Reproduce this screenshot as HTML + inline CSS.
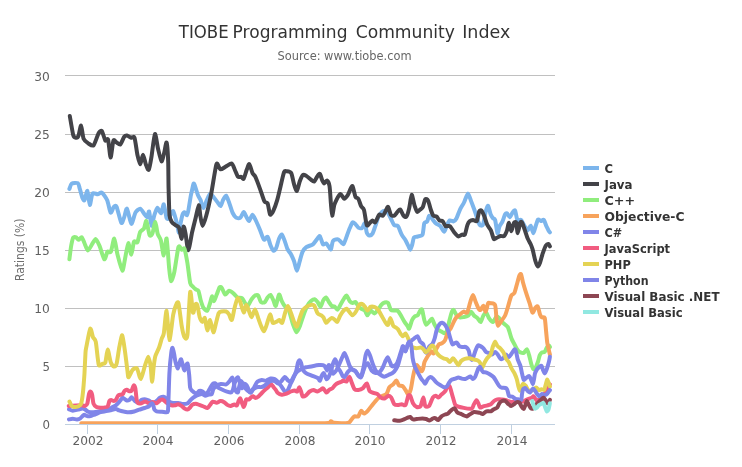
<!DOCTYPE html><html><head><meta charset="utf-8"><title>TIOBE Programming Community Index</title>
<style>html,body{margin:0;padding:0;background:#fff}svg{display:block}text{font-family:"DejaVu Sans","Liberation Sans",sans-serif}</style></head><body>
<svg width="742" height="467" viewBox="0 0 742 467">
<rect width="742" height="467" fill="#fff"/>
<path d="M65 366.5H555" stroke="#c0c0c0" stroke-width="1" fill="none"/>
<path d="M65 308.5H555" stroke="#c0c0c0" stroke-width="1" fill="none"/>
<path d="M65 250.5H555" stroke="#c0c0c0" stroke-width="1" fill="none"/>
<path d="M65 192.5H555" stroke="#c0c0c0" stroke-width="1" fill="none"/>
<path d="M65 134.5H555" stroke="#c0c0c0" stroke-width="1" fill="none"/>
<path d="M65 75.5H555" stroke="#c0c0c0" stroke-width="1" fill="none"/>
<path d="M65 424.5H555" stroke="#c0d0e0" stroke-width="1" fill="none"/>
<path d="M87.5 424.5V434" stroke="#c0d0e0" stroke-width="1" fill="none"/>
<text x="87.9" y="444.8" text-anchor="middle" font-size="12" fill="#606060" textLength="31" lengthAdjust="spacingAndGlyphs">2002</text>
<path d="M157.5 424.5V434" stroke="#c0d0e0" stroke-width="1" fill="none"/>
<text x="157.9" y="444.8" text-anchor="middle" font-size="12" fill="#606060" textLength="31" lengthAdjust="spacingAndGlyphs">2004</text>
<path d="M228.5 424.5V434" stroke="#c0d0e0" stroke-width="1" fill="none"/>
<text x="228.9" y="444.8" text-anchor="middle" font-size="12" fill="#606060" textLength="31" lengthAdjust="spacingAndGlyphs">2006</text>
<path d="M299.5 424.5V434" stroke="#c0d0e0" stroke-width="1" fill="none"/>
<text x="299.9" y="444.8" text-anchor="middle" font-size="12" fill="#606060" textLength="31" lengthAdjust="spacingAndGlyphs">2008</text>
<path d="M369.5 424.5V434" stroke="#c0d0e0" stroke-width="1" fill="none"/>
<text x="369.9" y="444.8" text-anchor="middle" font-size="12" fill="#606060" textLength="31" lengthAdjust="spacingAndGlyphs">2010</text>
<path d="M440.5 424.5V434" stroke="#c0d0e0" stroke-width="1" fill="none"/>
<text x="440.9" y="444.8" text-anchor="middle" font-size="12" fill="#606060" textLength="31" lengthAdjust="spacingAndGlyphs">2012</text>
<path d="M511.5 424.5V434" stroke="#c0d0e0" stroke-width="1" fill="none"/>
<text x="511.9" y="444.8" text-anchor="middle" font-size="12" fill="#606060" textLength="31" lengthAdjust="spacingAndGlyphs">2014</text>
<text x="49.9" y="429.1" text-anchor="end" font-size="12" fill="#606060" textLength="7.5" lengthAdjust="spacingAndGlyphs">0</text>
<text x="49.9" y="371.1" text-anchor="end" font-size="12" fill="#606060" textLength="7.5" lengthAdjust="spacingAndGlyphs">5</text>
<text x="49.9" y="313.1" text-anchor="end" font-size="12" fill="#606060" textLength="15.6" lengthAdjust="spacingAndGlyphs">10</text>
<text x="49.9" y="255.1" text-anchor="end" font-size="12" fill="#606060" textLength="15.6" lengthAdjust="spacingAndGlyphs">15</text>
<text x="49.9" y="197.1" text-anchor="end" font-size="12" fill="#606060" textLength="15.6" lengthAdjust="spacingAndGlyphs">20</text>
<text x="49.9" y="139.1" text-anchor="end" font-size="12" fill="#606060" textLength="15.6" lengthAdjust="spacingAndGlyphs">25</text>
<text x="49.9" y="81.1" text-anchor="end" font-size="12" fill="#606060" textLength="15.6" lengthAdjust="spacingAndGlyphs">30</text>
<text y="38" font-size="18" fill="#333333" xml:space="preserve"><tspan x="178.8" textLength="49.8" lengthAdjust="spacingAndGlyphs">TIOBE</tspan> <tspan x="232.6" textLength="114.9" lengthAdjust="spacingAndGlyphs">Programming</tspan> <tspan x="355.7" textLength="99.2" lengthAdjust="spacingAndGlyphs">Community</tspan> <tspan x="462.2" textLength="48.1" lengthAdjust="spacingAndGlyphs">Index</tspan></text>
<text x="344.5" y="60" text-anchor="middle" font-size="12" fill="#666666" textLength="134" lengthAdjust="spacingAndGlyphs">Source: www.tiobe.com</text>
<text transform="translate(23.5 249.8) rotate(-90)" text-anchor="middle" font-size="12" fill="#707070" textLength="62.5" lengthAdjust="spacingAndGlyphs">Ratings (%)</text>
<clipPath id="pc"><rect x="65" y="70" width="490" height="354"/></clipPath>
<g fill="none" stroke-width="4" stroke-linejoin="round" stroke-linecap="round" clip-path="url(#pc)">
<path d="M69.4 188.9C69.7 188.3 70.7 184.3 71.7 183.6C72.7 182.9 76.9 182.6 77.9 183.2C78.9 183.8 79.2 187.1 79.8 188.9C80.4 190.7 82.0 196.9 82.6 198.3C83.2 199.7 83.9 201.1 84.5 200.2C85.1 199.3 86.8 190.2 87.4 190.8C88.0 191.4 89.2 204.6 89.8 204.9C90.4 205.2 91.6 194.9 92.5 193.6C93.4 192.3 96.6 194.3 97.7 194.2C98.8 194.1 100.8 192.0 101.9 192.7C103.0 193.4 106.2 197.8 107.2 200.2C108.2 202.6 109.8 211.7 110.6 212.5C111.4 213.3 113.1 207.5 113.8 206.8C114.5 206.1 115.7 204.9 116.6 206.8C117.5 208.7 120.4 221.7 121.3 222.9C122.2 224.1 123.5 218.9 124.2 217.2C124.9 215.5 126.1 207.9 127.0 208.7C127.9 209.5 130.3 223.3 131.3 223.8C132.3 224.3 134.4 214.3 135.5 212.5C136.6 210.7 139.2 208.6 140.2 208.7C141.2 208.8 143.2 212.4 144.0 213.4C144.8 214.4 146.6 217.4 147.2 217.2C147.8 217.0 148.6 210.5 149.1 211.5C149.6 212.5 150.9 225.2 151.5 225.7C152.1 226.2 153.6 217.4 154.3 215.3C155.0 213.2 156.6 208.0 157.4 207.8C158.2 207.6 160.3 213.7 161.1 213.3C161.9 212.9 163.2 203.8 163.8 204.3C164.4 204.8 165.9 216.1 166.5 217.8C167.1 219.5 168.0 219.0 168.5 218.5C169.0 218.0 170.4 214.9 171.0 214.0C171.6 213.1 172.7 210.6 173.2 211.0C173.7 211.4 174.7 215.6 175.2 217.2C175.7 218.8 176.8 222.8 177.2 224.6C177.6 226.4 178.5 232.6 178.9 232.5C179.3 232.4 180.1 226.2 180.5 224.0C180.9 221.8 182.1 215.9 182.6 214.5C183.1 213.1 184.1 212.1 184.6 212.2C185.1 212.3 186.5 215.6 187.0 215.2C187.5 214.8 188.3 210.8 188.7 208.5C189.1 206.2 190.3 198.6 190.7 196.3C191.1 194.0 191.9 191.0 192.2 189.5C192.5 188.0 193.3 184.1 193.6 183.6C193.9 183.1 194.3 184.2 194.8 185.5C195.3 186.8 197.1 193.0 197.8 194.8C198.5 196.6 200.0 198.8 200.7 200.4C201.4 202.0 202.8 208.0 203.5 208.0C204.2 208.0 205.9 202.1 206.7 200.4C207.5 198.7 209.2 194.1 210.1 193.8C211.0 193.5 213.0 196.6 213.9 197.6C214.8 198.6 216.8 201.3 217.6 202.3C218.4 203.3 219.8 206.4 220.5 206.1C221.2 205.8 222.6 200.7 223.3 199.5C224.0 198.3 225.4 195.4 226.1 195.7C226.8 196.0 228.2 200.2 229.0 202.3C229.8 204.4 231.8 211.2 232.7 213.0C233.6 214.8 235.2 217.1 236.1 217.7C237.0 218.3 239.4 218.4 240.3 217.7C241.2 217.0 243.0 212.1 243.7 212.0C244.4 211.9 245.7 215.6 246.3 216.7C246.9 217.8 248.4 221.2 249.1 221.0C249.8 220.8 251.6 214.6 252.5 214.7C253.4 214.8 255.4 219.6 256.3 221.5C257.2 223.4 259.2 228.0 260.1 230.2C261.0 232.4 263.0 238.8 263.9 239.6C264.8 240.4 266.8 236.1 267.6 236.8C268.4 237.5 269.8 243.6 270.5 245.3C271.2 247.0 272.6 250.3 273.3 250.6C274.0 250.9 275.4 249.5 276.1 248.1C276.8 246.7 278.3 240.3 279.0 238.7C279.7 237.1 281.1 234.2 281.8 234.4C282.5 234.6 283.9 238.8 284.6 240.6C285.3 242.4 286.7 247.4 287.5 249.1C288.3 250.8 290.4 253.2 291.2 254.7C292.0 256.2 293.4 259.4 294.1 261.3C294.8 263.2 296.2 270.8 296.9 270.8C297.6 270.8 299.0 263.6 299.7 261.3C300.4 259.0 301.7 253.6 302.5 251.9C303.3 250.2 305.1 248.1 306.3 247.2C307.5 246.3 311.7 245.2 312.9 244.3C314.1 243.4 315.9 240.6 316.7 239.6C317.5 238.6 319.2 235.6 319.9 236.2C320.6 236.8 322.2 243.4 322.9 244.3C323.6 245.2 325.4 243.1 326.1 243.4C326.8 243.7 328.4 246.5 329.0 247.2C329.6 247.9 330.5 250.1 331.0 249.4C331.5 248.7 332.2 242.2 333.0 241.0C333.8 239.8 336.6 239.3 337.5 239.3C338.4 239.3 339.7 240.6 340.4 241.2C341.1 241.8 342.8 244.7 343.6 244.0C344.4 243.3 346.3 237.4 347.0 235.5C347.7 233.6 349.1 229.6 349.8 228.0C350.5 226.4 351.9 222.8 352.6 222.3C353.3 221.8 354.8 223.6 355.5 224.2C356.2 224.8 357.5 227.1 358.3 227.6C359.1 228.1 361.3 228.5 362.1 228.0C362.9 227.5 364.3 222.6 364.9 223.2C365.5 223.8 366.2 231.2 366.8 232.7C367.4 234.2 368.9 235.4 369.6 235.5C370.3 235.6 371.8 234.7 372.5 233.6C373.2 232.5 374.6 228.0 375.3 226.1C376.0 224.2 377.3 219.3 378.1 217.6C378.9 215.9 381.0 212.7 381.9 211.9C382.8 211.1 384.9 210.8 385.7 211.0C386.5 211.2 387.8 212.8 388.5 213.8C389.2 214.8 390.6 218.1 391.3 219.5C392.0 220.9 393.4 224.3 394.2 225.1C395.0 225.9 397.0 225.0 397.9 226.1C398.8 227.2 400.8 232.9 401.7 234.6C402.6 236.3 404.7 238.8 405.5 240.2C406.3 241.6 407.7 244.8 408.3 245.9C408.9 247.0 409.7 249.8 410.2 249.7C410.7 249.6 411.6 246.5 412.1 245.0C412.6 243.5 413.3 238.4 414.0 237.4C414.7 236.4 416.7 236.8 417.7 236.5C418.7 236.2 421.7 236.2 422.5 234.6C423.3 233.0 423.7 224.8 424.3 223.2C424.9 221.6 426.6 222.3 427.2 221.4C427.8 220.5 428.5 216.0 429.1 215.7C429.7 215.4 431.1 217.6 431.9 218.5C432.7 219.4 434.7 222.3 435.7 223.2C436.7 224.1 439.4 225.1 440.4 226.1C441.4 227.1 443.4 231.9 444.2 231.8C445.0 231.7 446.3 226.5 447.0 225.1C447.7 223.7 449.0 220.8 449.8 220.4C450.6 220.0 452.8 221.6 453.6 221.4C454.4 221.2 455.6 220.0 456.4 218.5C457.2 217.0 459.3 211.0 460.2 209.1C461.1 207.2 463.1 204.4 464.0 202.5C464.9 200.6 467.0 193.8 467.9 193.6C468.8 193.4 470.4 199.3 471.1 201.1C471.8 202.9 473.3 206.8 474.0 208.7C474.7 210.6 476.1 215.3 476.8 217.2C477.5 219.1 478.9 223.8 479.6 224.7C480.3 225.6 482.3 226.3 483.0 224.7C483.7 223.1 485.1 213.8 485.7 211.5C486.3 209.2 487.5 205.5 488.1 205.8C488.7 206.1 490.0 212.8 490.6 214.3C491.2 215.8 492.3 217.4 492.8 218.1C493.3 218.8 494.5 218.2 495.1 220.0C495.7 221.8 497.0 232.4 497.5 233.2C498.0 234.0 498.8 228.0 499.4 226.6C500.0 225.2 501.6 223.4 502.3 221.9C503.0 220.4 504.5 215.3 505.1 214.3C505.7 213.3 506.4 213.1 507.0 213.4C507.6 213.7 509.1 217.3 509.8 217.2C510.5 217.1 512.0 213.3 512.6 212.5C513.2 211.7 514.5 209.7 515.1 210.6C515.7 211.5 516.7 218.9 517.4 220.0C518.1 221.1 520.2 219.2 521.1 220.0C522.0 220.8 524.1 225.4 524.9 226.6C525.7 227.8 527.0 230.5 527.7 230.4C528.4 230.3 529.9 225.4 530.6 225.7C531.3 226.0 532.8 233.2 533.4 233.2C534.0 233.2 535.2 227.3 535.8 225.7C536.4 224.1 537.5 220.1 538.1 219.5C538.7 218.9 540.2 220.9 540.9 221.0C541.6 221.1 543.1 219.3 543.8 220.0C544.5 220.7 546.0 225.4 546.6 226.6C547.2 227.8 548.1 229.7 548.5 230.4C548.9 231.1 549.7 232.1 549.9 232.3" stroke="#7cb5ec"/>
<path d="M69.8 116.0C70.2 118.3 72.5 132.3 73.2 134.9C73.9 137.5 75.4 137.6 76.0 137.7C76.6 137.8 77.9 137.3 78.5 135.8C79.1 134.3 80.5 125.2 81.1 125.5C81.7 125.8 82.7 136.6 83.6 138.7C84.5 140.8 87.1 142.6 88.3 143.4C89.5 144.2 92.4 146.5 93.6 145.3C94.8 144.1 97.7 134.7 98.7 133.0C99.7 131.3 101.1 130.2 101.9 131.1C102.7 132.0 104.6 139.6 105.3 140.6C106.0 141.6 107.5 137.6 108.1 139.6C108.7 141.6 110.0 157.4 110.6 157.5C111.2 157.6 112.7 142.4 113.4 140.6C114.1 138.8 115.8 142.1 116.6 142.5C117.4 142.9 119.5 145.0 120.4 144.3C121.3 143.6 123.4 137.9 124.2 136.8C125.0 135.7 126.2 135.4 127.0 135.5C127.8 135.6 129.9 137.4 130.8 137.7C131.7 138.0 133.7 135.7 134.5 137.7C135.3 139.7 136.7 151.5 137.4 154.7C138.1 157.9 139.5 164.2 140.2 164.2C140.9 164.2 142.3 154.7 143.0 154.7C143.7 154.7 145.1 162.4 145.8 164.2C146.5 166.0 148.0 170.7 148.7 169.8C149.4 168.9 150.8 160.9 151.5 156.6C152.2 152.3 154.1 134.9 154.9 134.0C155.7 133.1 157.3 145.7 158.1 149.0C158.9 152.3 160.8 160.8 161.5 161.3C162.2 161.8 163.6 155.1 164.2 152.8C164.8 150.5 166.1 141.4 166.6 142.5C167.1 143.6 168.0 156.7 168.2 162.3C168.4 167.9 168.4 182.6 168.6 188.9C168.8 195.2 169.1 211.2 169.5 215.2C169.9 219.2 171.1 220.8 171.8 222.0C172.5 223.2 174.3 224.3 175.2 225.0C176.1 225.7 178.1 225.9 178.9 227.6C179.7 229.3 181.1 239.0 181.7 238.9C182.3 238.8 183.1 227.4 183.6 226.7C184.1 226.0 184.9 230.5 185.5 233.3C186.1 236.1 187.5 250.4 188.3 250.3C189.1 250.2 191.2 236.3 192.1 232.3C193.0 228.3 195.0 220.5 195.8 217.2C196.6 213.9 198.3 205.4 198.8 205.2C199.3 205.0 199.9 213.0 200.3 215.5C200.7 218.0 201.8 225.9 202.5 225.9C203.2 225.9 205.3 219.2 206.3 215.5C207.3 211.8 210.1 199.3 211.0 194.8C211.9 190.3 213.3 181.3 213.9 177.8C214.5 174.3 215.7 167.2 216.1 165.5C216.5 163.8 216.8 163.1 217.3 163.6C217.8 164.1 219.4 169.0 220.5 169.3C221.6 169.6 224.7 167.1 226.1 166.4C227.5 165.7 230.7 163.1 231.8 163.6C232.9 164.1 234.3 168.6 235.0 170.2C235.7 171.8 237.3 176.0 238.0 176.8C238.7 177.6 240.5 176.6 241.2 176.8C241.9 177.0 243.0 179.6 243.7 178.7C244.4 177.8 246.2 171.0 246.9 169.3C247.6 167.6 248.6 163.7 249.3 164.2C250.0 164.7 251.8 171.6 252.5 173.1C253.2 174.6 254.5 174.9 255.4 176.8C256.3 178.7 259.0 186.1 260.1 189.1C261.2 192.1 263.5 199.7 264.4 201.4C265.3 203.1 266.9 201.7 267.6 203.3C268.3 204.9 269.4 213.7 270.1 214.6C270.8 215.5 272.5 212.5 273.3 210.8C274.1 209.1 276.2 203.5 277.1 200.4C278.0 197.3 280.0 188.7 280.8 185.3C281.6 181.9 283.4 173.8 284.1 172.1C284.8 170.4 285.6 171.1 286.5 171.2C287.4 171.3 290.3 171.4 291.2 173.0C292.1 174.6 293.4 182.2 294.1 184.4C294.8 186.6 296.2 191.3 296.9 191.0C297.6 190.7 299.0 183.4 299.7 181.5C300.4 179.6 302.1 175.6 302.9 174.9C303.7 174.2 305.3 175.3 306.3 175.9C307.3 176.5 310.1 179.0 311.0 179.7C311.9 180.4 313.4 182.0 314.2 181.5C315.0 181.0 316.9 176.8 317.6 175.9C318.3 175.0 319.3 173.4 319.9 174.0C320.5 174.6 321.9 179.5 322.4 180.6C322.9 181.7 323.6 183.4 324.2 183.4C324.8 183.4 326.5 180.3 327.1 180.6C327.7 180.9 329.0 183.3 329.5 186.0C330.0 188.7 330.6 199.8 330.9 203.4C331.2 207.0 331.8 215.5 332.2 215.7C332.6 215.9 333.7 207.2 334.2 205.3C334.7 203.4 335.9 201.0 336.6 199.6C337.3 198.2 339.5 194.1 340.4 194.0C341.3 193.9 343.3 198.6 344.2 198.7C345.1 198.8 347.1 196.1 347.9 194.9C348.7 193.7 350.2 189.3 350.8 188.3C351.4 187.3 352.0 185.4 352.6 186.4C353.2 187.4 354.8 195.3 355.5 196.8C356.2 198.3 357.6 197.6 358.3 198.7C359.0 199.8 360.4 204.8 361.1 206.2C361.8 207.6 363.3 207.7 364.0 210.0C364.7 212.3 366.1 223.5 366.8 225.1C367.5 226.7 368.9 223.8 369.6 223.2C370.3 222.6 371.8 220.5 372.5 220.4C373.2 220.3 374.5 223.0 375.3 222.3C376.1 221.6 378.2 215.5 379.1 214.7C380.0 213.9 382.0 216.1 382.8 215.7C383.6 215.3 385.1 212.1 385.7 211.0C386.3 209.9 387.5 206.4 388.1 206.8C388.7 207.2 390.1 213.6 390.8 214.7C391.5 215.8 393.4 216.0 394.2 215.7C395.0 215.4 396.8 212.6 397.5 211.9C398.2 211.2 399.5 209.0 400.2 209.5C400.9 210.0 402.9 214.8 403.6 215.7C404.3 216.6 405.7 217.5 406.4 216.6C407.1 215.7 408.6 210.7 409.2 208.1C409.8 205.5 411.1 195.2 411.7 194.9C412.3 194.6 413.8 203.3 414.5 205.3C415.2 207.3 416.5 211.4 417.2 211.9C417.9 212.4 419.5 210.1 420.2 209.5C420.9 208.9 422.2 208.4 422.8 207.2C423.4 206.0 424.7 200.1 425.3 199.3C425.9 198.5 427.4 199.3 428.1 200.6C428.8 201.9 430.3 208.2 430.9 210.0C431.5 211.8 432.7 214.9 433.4 215.7C434.1 216.5 435.9 216.0 436.6 216.6C437.3 217.2 438.7 219.8 439.4 220.4C440.1 221.0 442.1 220.6 442.8 221.3C443.5 222.0 444.7 225.5 445.5 226.1C446.3 226.7 448.7 225.3 449.8 226.1C450.9 226.9 453.5 231.5 454.5 232.7C455.5 233.9 457.4 236.2 458.3 236.4C459.2 236.6 461.3 234.8 462.1 234.6C462.9 234.4 464.3 235.7 464.9 234.6C465.5 233.5 466.8 226.7 467.4 225.1C468.0 223.5 468.9 221.9 469.6 221.3C470.3 220.7 472.1 220.0 473.0 220.0C473.9 220.0 476.1 222.0 476.8 221.0C477.5 220.0 478.6 212.7 479.2 211.5C479.8 210.3 480.9 210.0 481.5 210.6C482.1 211.2 483.6 214.5 484.3 216.2C485.0 217.9 486.4 223.0 487.2 224.7C488.0 226.4 490.1 228.7 490.9 230.4C491.7 232.1 493.1 238.0 493.8 238.9C494.5 239.8 495.8 238.2 496.6 237.9C497.4 237.6 499.5 236.2 500.4 236.0C501.3 235.8 503.4 236.7 504.2 236.0C505.0 235.3 506.4 232.0 507.0 230.4C507.6 228.8 508.4 222.7 508.9 222.8C509.4 222.9 510.7 231.3 511.3 231.3C511.9 231.3 513.4 223.8 514.0 222.8C514.6 221.8 516.0 221.6 516.4 222.8C516.8 224.0 517.2 233.2 517.7 233.2C518.2 233.2 519.7 224.1 520.2 222.8C520.7 221.5 521.5 221.6 522.1 222.5C522.7 223.4 524.2 228.5 524.9 230.4C525.6 232.3 527.0 236.9 527.7 238.5C528.4 240.1 530.0 242.7 530.6 244.0C531.2 245.3 532.0 247.4 532.6 249.4C533.2 251.4 534.7 258.8 535.3 260.8C535.9 262.8 537.1 266.2 537.7 266.4C538.3 266.6 539.4 264.3 540.0 262.7C540.6 261.1 542.1 255.2 542.8 253.2C543.5 251.2 545.0 246.8 545.7 245.7C546.4 244.6 548.0 243.9 548.5 244.0C549.0 244.1 549.7 246.0 549.9 246.3" stroke="#434348"/>
<path d="M69.4 259.3C69.6 257.6 70.8 247.7 71.3 245.1C71.8 242.5 72.6 238.5 73.2 237.6C73.8 236.7 75.4 236.9 76.0 237.2C76.6 237.5 77.8 239.8 78.5 239.8C79.2 239.8 81.0 236.8 81.7 237.2C82.4 237.6 83.8 241.6 84.5 243.2C85.2 244.8 87.0 250.3 87.9 250.4C88.8 250.5 91.2 245.6 92.1 244.2C93.0 242.8 94.9 238.9 95.8 239.1C96.7 239.3 98.6 243.7 99.6 246.1C100.6 248.5 103.4 258.6 104.3 259.3C105.2 260.0 106.7 252.6 107.5 251.7C108.3 250.8 110.1 253.3 110.9 251.7C111.7 250.1 113.5 238.2 114.3 238.5C115.1 238.8 116.5 250.7 117.5 254.6C118.5 258.5 121.4 270.2 122.3 270.6C123.2 271.0 124.4 261.6 125.1 258.3C125.8 255.0 127.6 243.6 128.3 243.2C129.0 242.8 130.6 254.8 131.3 254.6C132.0 254.4 133.3 243.2 134.0 241.7C134.7 240.2 136.7 243.5 137.4 242.3C138.1 241.1 139.4 233.6 140.2 231.9C141.0 230.2 143.3 229.8 144.0 228.5C144.7 227.2 145.7 220.2 146.4 221.0C147.1 221.8 148.9 233.7 149.6 235.2C150.3 236.7 151.8 234.9 152.5 233.3C153.2 231.7 154.7 221.8 155.3 221.9C155.9 222.0 157.0 231.6 157.7 233.8C158.4 236.0 160.2 237.8 160.9 240.4C161.6 243.0 163.1 255.7 163.8 255.5C164.5 255.3 166.0 237.0 166.6 238.5C167.2 240.0 168.6 262.7 169.1 267.8C169.6 272.9 170.4 280.4 171.0 281.0C171.6 281.6 173.3 276.6 174.2 272.5C175.1 268.4 177.6 249.7 178.5 247.0C179.4 244.3 181.0 249.6 181.7 249.8C182.4 250.0 183.8 247.3 184.5 248.9C185.2 250.5 186.7 258.9 187.4 263.0C188.1 267.1 189.5 280.1 190.2 282.9C190.9 285.7 192.3 285.9 193.0 286.7C193.7 287.5 195.3 289.0 196.0 289.5C196.7 290.0 197.9 289.7 198.5 291.0C199.1 292.3 200.1 298.2 200.7 300.2C201.3 302.2 202.7 306.6 203.5 307.8C204.3 309.0 206.5 311.2 207.3 310.6C208.1 310.0 209.5 304.7 210.1 303.0C210.7 301.3 211.5 296.6 212.0 296.4C212.5 296.2 213.3 301.4 213.9 301.2C214.5 301.0 216.0 296.3 216.7 294.6C217.4 292.9 218.9 288.2 219.5 287.4C220.1 286.6 221.1 287.0 221.8 287.9C222.5 288.8 224.3 294.3 225.2 294.6C226.1 294.9 228.0 290.9 229.0 290.8C230.0 290.7 232.7 292.8 233.7 293.6C234.7 294.4 236.5 296.8 237.5 297.4C238.5 298.0 241.3 297.6 242.2 298.3C243.1 299.0 244.3 302.1 245.0 303.0C245.7 303.9 247.0 306.4 247.8 305.9C248.6 305.4 250.7 300.4 251.6 299.2C252.5 298.0 254.2 295.9 255.0 295.5C255.8 295.1 257.5 294.7 258.2 295.5C258.9 296.3 260.2 301.3 261.0 302.1C261.8 302.9 264.0 302.7 264.8 302.1C265.6 301.5 266.9 298.3 267.6 297.4C268.3 296.5 269.8 294.6 270.5 294.9C271.2 295.2 272.7 298.9 273.3 300.2C273.9 301.5 275.1 306.6 275.8 305.9C276.5 305.2 278.3 295.1 279.0 294.5C279.7 293.9 281.1 299.7 281.8 301.1C282.5 302.5 283.8 305.0 284.6 305.9C285.4 306.8 287.4 306.4 288.4 308.7C289.4 311.0 292.1 321.9 293.1 324.7C294.1 327.5 295.7 332.1 296.5 332.3C297.3 332.5 298.9 328.6 299.7 326.6C300.5 324.6 302.6 317.8 303.5 315.3C304.4 312.8 306.4 307.6 307.3 305.9C308.2 304.2 310.1 301.9 311.0 301.1C311.9 300.3 314.0 299.1 314.8 299.2C315.6 299.3 316.9 301.2 317.6 302.1C318.3 303.0 319.8 307.0 320.5 306.8C321.2 306.6 322.6 301.3 323.3 300.2C324.0 299.1 325.4 297.2 326.1 297.4C326.8 297.6 328.3 301.1 329.0 302.1C329.7 303.1 331.1 305.5 331.8 306.0C332.5 306.5 333.8 306.1 334.5 306.5C335.2 306.9 336.8 309.9 337.5 309.7C338.2 309.5 339.6 306.3 340.4 304.9C341.2 303.5 343.5 299.4 344.2 298.3C344.9 297.2 345.9 295.2 346.6 295.5C347.3 295.8 349.1 300.3 349.8 301.2C350.5 302.1 351.9 302.9 352.6 303.0C353.3 303.1 354.8 301.7 355.5 302.1C356.2 302.5 357.6 305.2 358.3 306.0C359.0 306.8 360.3 308.1 361.1 308.7C361.9 309.3 364.1 309.8 364.9 310.6C365.7 311.4 366.7 315.3 367.4 315.3C368.1 315.3 369.8 310.8 370.6 310.6C371.4 310.4 373.4 313.5 374.3 313.4C375.2 313.3 377.3 310.7 378.1 309.7C378.9 308.7 380.5 305.8 381.3 304.9C382.1 304.0 383.9 302.7 384.7 302.5C385.5 302.3 387.4 302.1 388.1 303.0C388.8 303.9 390.1 308.8 390.8 309.7C391.5 310.6 393.4 310.5 394.2 310.6C395.0 310.7 396.7 310.0 397.5 310.6C398.3 311.2 400.0 313.9 400.8 315.3C401.6 316.7 403.7 320.7 404.5 321.9C405.3 323.1 406.8 324.9 407.4 325.7C408.0 326.5 408.6 329.2 409.2 328.5C409.8 327.8 411.4 321.5 412.1 320.0C412.8 318.5 414.2 316.9 414.9 316.3C415.6 315.7 417.1 316.0 417.7 315.3C418.3 314.6 419.7 311.3 420.2 310.6C420.7 309.9 421.6 308.6 422.1 309.7C422.6 310.8 423.8 318.2 424.3 320.0C424.8 321.8 425.6 324.6 426.2 324.8C426.8 325.0 428.4 322.6 429.1 321.9C429.8 321.2 431.2 318.4 431.9 318.7C432.6 319.0 434.0 323.5 434.7 324.8C435.4 326.1 436.7 328.7 437.5 329.5C438.3 330.3 440.4 330.9 441.3 331.4C442.2 331.9 444.0 333.4 444.7 333.3C445.4 333.2 446.4 332.1 447.0 330.4C447.6 328.7 449.2 321.3 449.8 319.1C450.4 316.9 451.3 313.1 451.8 312.0C452.3 310.9 453.0 309.4 453.6 309.8C454.2 310.2 455.6 314.1 456.4 315.0C457.2 315.9 459.3 317.3 460.2 317.5C461.1 317.7 463.0 317.2 464.0 317.0C465.0 316.8 467.4 316.1 468.3 315.5C469.2 314.9 470.4 311.7 471.1 311.7C471.8 311.7 473.2 314.7 474.0 315.5C474.8 316.3 476.9 317.5 477.7 318.3C478.5 319.1 479.9 322.4 480.6 322.1C481.3 321.8 482.7 316.6 483.4 315.5C484.1 314.4 485.5 312.3 486.2 312.6C486.9 312.9 488.3 317.2 489.1 318.3C489.9 319.4 491.9 322.3 492.8 322.1C493.7 321.9 495.8 317.0 496.6 316.5C497.4 316.0 498.6 317.5 499.4 318.3C500.2 319.1 502.2 321.9 503.2 323.0C504.2 324.1 506.9 325.3 507.9 327.2C508.9 329.1 510.7 336.4 511.5 338.5C512.3 340.6 513.8 342.9 514.5 344.3C515.2 345.7 517.0 349.2 517.7 350.2C518.4 351.2 519.7 352.1 520.4 352.4C521.1 352.7 522.9 353.3 523.7 352.9C524.5 352.5 526.3 348.9 526.9 349.2C527.5 349.5 528.6 353.4 529.1 355.1C529.6 356.8 530.7 362.0 531.2 363.7C531.7 365.4 532.9 368.6 533.4 369.1C533.9 369.6 534.9 369.0 535.5 368.0C536.1 367.0 537.7 362.5 538.2 361.0C538.7 359.5 539.3 356.1 539.8 355.1C540.3 354.1 541.4 352.8 542.0 352.4C542.6 352.0 544.1 352.5 544.7 351.9C545.3 351.3 546.3 348.3 546.8 347.5C547.3 346.7 548.6 345.5 549.0 345.4C549.4 345.3 549.8 346.8 549.9 347.0" stroke="#90ed7d"/>
<path d="M81.3 423.3C89.5 423.3 129.8 423.3 150.0 423.3C170.2 423.3 229.0 423.3 250.0 423.3C271.0 423.3 315.3 423.5 325.0 423.3C334.7 423.1 329.7 421.4 330.8 421.3C331.9 421.2 332.5 422.6 333.8 422.8C335.1 423.0 339.5 423.3 341.3 423.3C343.1 423.3 347.7 423.1 348.9 422.6C350.1 422.1 351.0 420.0 351.7 419.3C352.4 418.6 353.7 416.7 354.5 416.4C355.3 416.1 357.5 417.1 358.3 416.4C359.1 415.7 360.4 411.1 361.1 410.8C361.8 410.5 363.2 413.6 364.0 413.6C364.8 413.6 366.8 411.7 367.7 410.8C368.6 409.9 370.6 407.1 371.5 406.0C372.4 404.9 374.4 402.3 375.3 401.3C376.2 400.3 378.2 398.2 379.1 397.5C380.0 396.8 381.9 396.1 382.8 395.7C383.7 395.3 385.8 394.8 386.6 393.8C387.4 392.8 388.6 388.3 389.4 387.2C390.2 386.1 392.4 385.1 393.2 384.3C394.0 383.5 395.7 380.5 396.4 380.6C397.1 380.7 398.2 384.6 398.9 385.3C399.6 386.0 401.8 385.6 402.6 386.2C403.4 386.8 404.8 389.0 405.5 390.0C406.2 391.0 407.7 394.8 408.3 394.7C408.9 394.6 410.2 391.2 410.8 389.1C411.4 387.0 412.5 379.4 413.0 376.8C413.5 374.2 414.8 368.8 415.3 367.4C415.8 366.0 416.5 364.8 417.0 365.0C417.5 365.2 418.9 368.0 419.5 368.8C420.1 369.6 421.3 371.4 421.8 371.3C422.3 371.2 423.0 369.1 423.3 368.0C423.6 366.9 424.0 363.3 424.5 362.0C425.0 360.7 426.5 358.2 427.1 357.2C427.7 356.2 429.3 354.1 429.8 353.4C430.3 352.7 430.9 351.3 431.4 351.3C431.9 351.3 432.9 353.9 433.6 353.4C434.3 352.9 436.8 348.1 437.4 347.0C438.0 345.9 438.4 344.8 439.0 344.3C439.6 343.8 441.5 343.7 442.2 343.2C442.9 342.7 444.4 341.3 444.9 340.5C445.4 339.7 446.1 337.2 446.5 336.2C446.9 335.2 447.6 332.9 448.1 331.9C448.6 330.9 450.2 329.1 450.8 328.1C451.4 327.1 452.4 324.8 453.0 323.5C453.6 322.2 455.4 318.6 456.2 317.5C457.0 316.4 458.9 315.2 459.8 314.5C460.7 313.8 462.7 311.8 463.6 311.6C464.5 311.4 466.4 313.6 467.2 312.5C468.0 311.4 469.5 304.4 470.2 302.3C470.9 300.2 472.3 295.1 473.0 295.1C473.7 295.1 475.1 300.6 475.8 302.3C476.5 304.0 478.1 308.0 478.7 308.9C479.3 309.8 480.0 310.2 480.6 309.8C481.2 309.4 482.8 305.5 483.4 305.7C484.0 305.9 485.1 312.0 485.7 311.7C486.3 311.4 487.5 304.2 488.1 303.2C488.7 302.2 490.1 303.0 490.9 303.2C491.7 303.4 494.4 303.2 495.1 305.1C495.8 307.0 496.2 316.7 496.6 319.2C497.0 321.7 497.5 325.6 498.1 325.8C498.7 326.0 500.5 322.3 501.3 321.1C502.1 319.9 504.3 317.2 505.1 315.5C505.9 313.8 507.2 309.4 507.9 307.0C508.6 304.6 510.5 297.4 511.3 295.7C512.1 294.0 513.8 294.4 514.5 292.8C515.2 291.2 516.8 284.5 517.4 282.5C518.0 280.5 518.8 276.9 519.2 275.9C519.6 274.9 520.6 273.5 521.1 274.3C521.6 275.1 522.4 280.4 523.0 282.5C523.6 284.6 525.0 289.4 525.8 291.9C526.6 294.4 528.8 300.7 529.6 303.2C530.4 305.7 531.8 312.0 532.5 312.6C533.2 313.2 534.7 308.6 535.3 307.9C535.9 307.2 537.1 305.6 537.7 306.4C538.3 307.2 539.5 313.2 540.0 314.5C540.5 315.8 541.3 317.0 541.9 317.4C542.5 317.8 544.2 316.5 544.7 318.0C545.2 319.5 545.7 327.2 546.0 330.2C546.3 333.2 546.9 340.5 547.3 343.0C547.7 345.5 548.7 349.4 549.0 350.8C549.3 352.2 549.8 354.0 549.9 354.4" stroke="#f7a35c"/>
<path d="M69.0 409.3C69.5 409.5 71.7 410.7 72.8 410.7C73.9 410.7 77.0 409.9 78.2 409.6C79.4 409.3 81.7 408.6 82.5 408.6C83.3 408.6 84.5 409.2 85.2 409.6C85.9 410.0 87.4 411.5 88.4 411.8C89.4 412.1 92.1 412.3 93.3 412.3C94.5 412.3 97.3 411.8 98.7 411.5C100.1 411.2 103.8 410.5 105.1 410.2C106.4 409.9 108.5 409.5 109.4 409.1C110.3 408.7 111.9 407.5 112.7 407.0C113.5 406.5 115.3 405.8 115.9 405.3C116.5 404.8 117.5 403.8 118.1 403.2C118.7 402.6 120.3 400.5 120.8 399.9C121.3 399.3 122.0 397.9 122.4 397.8C122.8 397.7 124.0 398.6 124.5 398.9C125.0 399.2 126.1 400.4 126.7 400.5C127.3 400.6 128.8 400.3 129.4 399.9C130.0 399.5 131.0 397.4 131.5 397.3C132.0 397.2 132.8 398.5 133.2 398.9C133.6 399.3 134.4 400.6 135.0 401.0C135.6 401.4 137.8 402.6 138.6 402.5C139.4 402.4 140.6 400.3 141.5 399.9C142.4 399.5 144.9 399.3 145.8 399.4C146.7 399.5 148.2 400.1 149.0 400.5C149.8 400.9 151.6 402.9 152.5 403.0C153.4 403.1 155.6 401.6 156.5 401.0C157.4 400.4 158.9 398.3 159.8 397.8C160.7 397.3 162.8 396.6 163.6 396.7C164.4 396.8 165.7 397.7 166.3 398.3C166.9 398.9 168.2 400.9 169.0 401.5C169.8 402.1 171.6 402.7 172.7 402.9C173.8 403.1 176.9 402.8 178.1 402.9C179.3 403.0 181.8 404.0 183.0 404.0C184.2 404.0 186.8 403.8 187.8 403.2C188.8 402.6 190.2 400.2 191.1 399.4C192.0 398.6 194.4 396.8 195.4 396.2C196.4 395.6 198.4 394.9 199.3 394.6C200.2 394.3 201.8 394.0 202.5 394.1C203.2 394.2 204.4 395.6 205.2 395.7C206.0 395.8 208.2 394.8 209.0 394.6C209.8 394.4 211.2 394.7 211.7 394.1C212.2 393.5 212.8 390.2 213.3 389.3C213.8 388.4 215.3 386.7 216.0 386.6C216.7 386.5 218.5 387.8 219.3 388.2C220.1 388.6 221.7 389.4 222.5 389.8C223.3 390.2 225.3 391.1 226.3 391.4C227.3 391.7 229.8 392.6 230.6 392.5C231.4 392.4 232.2 391.3 232.7 390.3C233.2 389.3 233.9 385.3 234.4 383.9C234.9 382.5 236.1 379.3 236.5 378.5C236.9 377.7 237.7 376.9 238.1 377.4C238.5 377.9 239.3 381.0 239.7 382.3C240.1 383.6 240.9 387.7 241.4 388.2C241.9 388.7 242.9 386.5 243.5 386.6C244.1 386.7 245.6 388.7 246.2 389.3C246.8 389.9 248.3 391.1 248.9 391.4C249.5 391.7 250.6 392.3 251.1 392.0C251.6 391.7 252.7 390.2 253.2 389.3C253.7 388.4 254.9 385.8 255.4 384.9C255.9 384.0 256.7 382.3 257.5 381.7C258.3 381.1 260.8 380.2 261.8 380.1C262.8 380.0 265.2 380.8 266.2 380.6C267.2 380.4 269.5 378.7 270.5 378.5C271.5 378.3 274.0 378.7 274.8 379.0C275.6 379.3 276.6 380.4 277.4 381.3C278.2 382.2 280.3 384.9 281.2 386.1C282.1 387.3 284.1 391.0 284.9 391.5C285.7 392.0 287.0 391.2 287.6 390.4C288.2 389.6 289.7 385.9 290.3 384.5C290.9 383.1 292.3 380.8 293.0 379.1C293.7 377.4 295.7 372.4 296.3 370.5C296.9 368.6 297.5 364.1 297.9 362.9C298.3 361.7 299.1 360.2 299.5 360.2C299.9 360.2 300.7 361.8 301.1 362.9C301.5 364.0 302.1 368.2 302.7 369.4C303.3 370.6 304.8 372.4 306.0 373.2C307.2 374.0 311.0 375.3 312.4 375.9C313.8 376.5 316.9 377.4 317.8 378.0C318.7 378.6 319.5 381.0 320.0 380.7C320.5 380.4 321.1 376.8 321.6 375.9C322.1 375.0 323.2 372.8 323.8 373.2C324.4 373.6 325.9 378.6 326.5 379.1C327.1 379.6 328.1 377.9 328.6 377.0C329.1 376.1 330.3 373.2 330.8 371.6C331.3 370.0 332.4 365.5 332.9 364.0C333.4 362.5 334.6 359.3 335.1 359.2C335.6 359.1 336.3 361.8 336.7 362.9C337.1 364.0 337.8 367.3 338.3 368.3C338.8 369.3 340.0 370.7 340.5 371.6C341.0 372.5 342.1 375.3 342.6 375.9C343.1 376.5 344.2 377.5 344.8 377.0C345.4 376.5 347.1 372.7 347.9 371.8C348.7 370.9 350.3 369.7 351.2 369.6C352.1 369.5 354.2 370.1 355.0 370.7C355.8 371.3 357.5 374.2 358.2 375.0C358.9 375.8 360.3 378.2 360.9 377.2C361.5 376.2 363.0 369.7 363.6 367.0C364.2 364.3 365.2 357.0 365.7 355.1C366.2 353.2 367.2 350.7 367.7 350.8C368.2 350.9 369.3 353.9 370.0 355.6C370.7 357.3 372.5 363.4 373.3 365.3C374.1 367.2 375.6 370.6 376.5 371.8C377.4 373.0 379.9 374.4 380.8 375.0C381.7 375.6 383.2 376.7 384.1 376.7C385.0 376.7 387.4 375.5 388.4 375.0C389.4 374.5 391.8 373.6 392.7 372.9C393.6 372.2 395.3 370.1 395.9 369.1C396.5 368.1 397.6 366.2 398.1 364.8C398.6 363.4 399.7 359.1 400.2 357.3C400.7 355.5 401.9 350.9 402.4 349.7C402.9 348.5 403.6 346.8 404.0 347.0C404.4 347.2 405.0 351.4 405.5 351.0C406.0 350.6 407.5 345.1 408.0 344.0C408.5 342.9 409.4 342.1 410.0 341.5C410.6 340.9 412.2 340.0 413.1 339.4C414.0 338.8 416.6 335.9 417.4 336.2C418.2 336.5 419.4 340.6 420.1 341.6C420.8 342.6 422.7 343.1 423.3 344.3C423.9 345.5 424.6 350.3 425.0 351.3C425.4 352.3 426.1 352.9 426.6 352.3C427.1 351.7 428.6 347.4 429.3 346.4C430.0 345.4 431.9 344.7 432.5 343.7C433.1 342.7 434.2 340.0 434.7 338.3C435.2 336.6 436.2 331.4 436.8 329.7C437.4 328.0 438.9 325.1 439.5 324.3C440.1 323.5 441.5 322.6 442.2 322.7C442.9 322.8 444.7 324.4 445.4 325.4C446.1 326.4 447.5 329.3 448.1 330.8C448.7 332.3 449.8 336.7 450.3 338.3C450.8 339.9 451.9 343.7 452.4 344.3C452.9 344.9 454.1 343.4 454.6 343.2C455.1 343.0 456.2 342.2 456.8 342.6C457.4 343.0 458.8 345.9 459.5 346.4C460.2 346.9 461.9 346.9 462.7 347.0C463.5 347.1 465.2 346.6 465.9 347.0C466.6 347.4 468.1 349.0 468.6 350.2C469.1 351.4 469.8 355.5 470.2 356.7C470.6 357.9 471.5 359.9 471.9 359.9C472.3 359.9 473.1 357.9 473.5 356.7C473.9 355.5 475.1 351.5 475.6 350.2C476.1 348.9 477.5 346.0 478.0 345.5C478.5 345.0 479.4 345.6 480.0 345.9C480.6 346.2 482.5 347.4 483.2 348.1C483.9 348.8 485.3 351.3 485.9 351.9C486.5 352.5 487.9 352.6 488.6 352.9C489.3 353.2 491.2 354.6 492.0 354.5C492.8 354.4 494.4 351.9 495.1 351.9C495.8 351.9 497.2 353.8 497.8 354.6C498.4 355.4 499.9 358.5 500.5 358.9C501.1 359.3 502.6 358.8 503.2 358.3C503.8 357.8 505.3 354.7 505.9 354.6C506.5 354.5 508.0 357.4 508.6 357.3C509.2 357.2 510.6 355.0 511.3 354.0C512.0 353.0 513.9 349.5 514.5 349.2C515.1 348.9 515.7 350.7 516.1 351.9C516.5 353.1 517.2 357.7 517.7 359.4C518.2 361.1 519.9 364.2 520.4 365.9C520.9 367.6 521.6 371.7 522.0 373.4C522.4 375.1 523.2 379.4 523.7 379.9C524.2 380.4 525.8 378.2 526.4 377.7C527.0 377.2 528.5 375.8 529.1 376.1C529.7 376.4 530.8 378.9 531.2 379.9C531.6 380.9 532.5 384.2 532.8 384.2C533.1 384.2 533.6 381.2 533.9 379.9C534.2 378.6 534.6 374.7 535.0 373.4C535.4 372.1 536.6 369.9 537.1 369.1C537.6 368.3 538.8 367.4 539.3 367.0C539.8 366.6 541.0 365.5 541.5 365.9C542.0 366.3 542.7 369.3 543.1 370.2C543.5 371.1 544.3 373.5 544.7 373.4C545.1 373.3 546.3 370.5 546.8 369.1C547.3 367.7 548.6 363.1 549.0 361.6C549.4 360.1 549.8 357.3 549.9 356.7" stroke="#8085e9"/>
<path d="M68.7 405.9C70.2 405.8 79.4 405.3 81.4 405.3C83.4 405.3 84.5 406.1 85.2 405.9C85.9 405.7 86.8 405.1 87.3 403.7C87.8 402.3 88.6 395.5 89.0 394.0C89.4 392.5 90.2 391.5 90.6 391.6C91.0 391.7 91.9 393.6 92.2 395.1C92.5 396.6 93.0 402.3 93.5 403.7C94.0 405.1 95.6 406.5 96.5 407.0C97.4 407.5 99.8 407.7 100.8 407.8C101.8 407.9 104.3 407.7 105.1 407.5C105.9 407.3 107.3 407.2 107.8 406.4C108.3 405.6 109.0 401.8 109.4 401.0C109.8 400.2 110.6 399.9 111.1 399.9C111.6 399.9 113.2 401.0 113.8 401.0C114.4 401.0 115.4 400.5 115.9 399.9C116.4 399.3 117.5 396.2 118.1 395.6C118.7 395.0 120.2 394.8 120.8 394.6C121.4 394.4 122.5 394.5 122.9 394.0C123.3 393.5 124.0 391.3 124.5 390.8C125.0 390.3 126.1 389.6 126.7 389.7C127.3 389.8 128.8 391.2 129.4 391.3C130.0 391.4 131.0 391.5 131.5 390.8C132.0 390.1 133.2 385.7 133.7 385.4C134.2 385.1 135.1 386.8 135.4 388.5C135.7 390.2 136.3 397.6 136.6 399.4C136.9 401.2 137.6 402.7 138.2 403.2C138.8 403.7 140.7 403.4 141.5 403.2C142.3 403.0 144.3 401.6 145.2 401.6C146.1 401.6 148.1 403.1 149.0 403.2C149.9 403.3 151.9 402.1 152.8 402.1C153.7 402.1 155.8 403.4 156.6 403.2C157.4 403.0 159.1 401.0 159.8 400.5C160.5 400.0 161.9 399.3 162.5 399.4C163.1 399.5 164.0 400.5 164.6 401.0C165.2 401.5 166.4 402.7 167.3 403.2C168.2 403.7 170.8 405.0 171.7 405.3C172.6 405.6 174.1 405.4 174.9 405.3C175.7 405.2 177.3 404.2 178.1 404.3C178.9 404.4 180.6 405.4 181.4 405.9C182.2 406.4 183.9 408.2 184.6 408.6C185.3 409.0 186.7 409.7 187.3 409.6C187.9 409.5 189.4 408.1 190.0 407.5C190.6 406.9 191.4 405.3 192.1 404.8C192.8 404.3 195.0 403.7 195.9 403.7C196.8 403.7 198.4 404.6 199.3 404.9C200.2 405.2 202.6 406.1 203.6 406.5C204.6 406.9 206.6 408.3 207.4 408.1C208.2 407.9 209.5 405.7 210.1 404.9C210.7 404.1 212.0 402.0 212.8 401.7C213.6 401.4 215.7 402.8 216.6 402.7C217.5 402.6 219.4 401.2 220.3 401.1C221.2 401.0 223.3 401.7 224.1 402.2C224.9 402.7 226.5 404.4 227.3 404.9C228.1 405.4 229.7 406.1 230.6 406.0C231.5 405.9 233.6 404.5 234.4 404.4C235.2 404.3 236.5 405.9 237.0 405.4C237.5 404.9 238.3 401.4 238.7 400.6C239.1 399.8 239.9 398.1 240.3 398.4C240.7 398.7 241.5 401.7 241.9 402.7C242.3 403.7 243.1 406.9 243.5 407.0C243.9 407.1 244.8 404.7 245.1 403.8C245.4 402.9 245.7 400.0 246.2 399.5C246.7 399.0 248.3 399.8 248.9 399.5C249.5 399.2 250.6 397.7 251.1 397.3C251.6 396.9 252.7 396.2 253.2 396.3C253.7 396.4 254.8 397.9 255.4 397.9C256.0 397.9 257.8 396.9 258.6 396.3C259.4 395.7 261.0 393.8 261.8 393.0C262.6 392.2 264.3 390.5 265.1 389.8C265.9 389.1 267.5 387.9 268.2 387.2C268.9 386.5 270.3 384.0 270.9 384.0C271.5 384.0 273.0 386.5 273.6 387.2C274.2 387.9 275.3 389.2 275.8 389.9C276.3 390.6 277.2 392.5 277.9 393.1C278.6 393.7 280.7 394.6 281.7 394.7C282.7 394.8 285.5 394.1 286.6 393.7C287.7 393.3 289.9 391.9 290.9 391.5C291.9 391.1 293.8 390.4 294.6 390.4C295.4 390.4 296.7 391.9 297.3 391.5C297.9 391.1 298.8 387.2 299.3 387.2C299.8 387.2 300.7 390.4 301.1 391.5C301.5 392.6 302.1 395.9 302.7 396.4C303.3 396.9 305.2 395.9 306.0 395.3C306.8 394.7 308.8 392.1 309.7 391.5C310.6 390.9 312.6 389.9 313.5 389.9C314.4 389.9 316.4 391.6 317.3 391.5C318.2 391.4 320.4 389.8 321.1 389.4C321.8 389.0 322.6 387.9 323.2 388.3C323.8 388.7 325.8 392.4 326.5 392.6C327.2 392.8 328.5 390.4 329.2 389.9C329.9 389.4 331.7 388.9 332.4 388.3C333.1 387.7 334.4 385.6 335.1 385.0C335.8 384.4 337.5 383.3 338.3 382.9C339.1 382.5 340.9 382.1 341.5 381.8C342.1 381.5 342.6 380.6 343.2 380.6C343.8 380.6 345.9 382.0 346.6 381.5C347.3 381.0 348.8 376.7 349.4 376.8C350.0 376.9 351.1 381.0 351.7 382.5C352.3 384.0 353.7 388.2 354.5 389.1C355.3 390.0 357.3 390.1 358.3 390.0C359.3 389.9 362.0 388.9 363.0 388.1C364.0 387.3 366.0 383.1 366.8 383.4C367.6 383.7 368.8 389.9 369.6 391.0C370.4 392.1 372.5 392.6 373.4 392.9C374.3 393.2 376.3 393.2 377.2 393.8C378.1 394.4 380.0 397.0 380.9 397.6C381.8 398.2 383.8 398.7 384.7 398.5C385.6 398.3 387.7 395.8 388.5 395.7C389.3 395.6 390.6 396.6 391.3 397.6C392.0 398.6 393.4 403.3 394.2 404.2C395.0 405.1 397.0 405.1 397.9 405.1C398.8 405.1 400.8 404.2 401.7 404.2C402.6 404.2 404.7 406.1 405.5 405.1C406.3 404.1 407.7 396.8 408.3 395.7C408.9 394.6 409.6 394.8 410.2 395.7C410.8 396.6 412.2 401.8 413.0 403.2C413.8 404.6 415.9 406.7 416.8 407.0C417.7 407.3 419.8 407.1 420.6 406.0C421.4 404.9 422.8 397.6 423.4 397.6C424.0 397.6 424.6 405.0 425.3 406.0C426.0 407.0 428.2 407.0 429.1 406.0C430.0 405.0 432.0 398.8 432.8 397.6C433.6 396.4 435.0 395.7 435.7 395.7C436.4 395.7 437.8 397.7 438.5 397.6C439.2 397.5 440.5 395.5 441.3 394.7C442.1 393.9 444.4 392.2 445.1 391.3C445.8 390.4 446.4 388.3 446.8 387.5C447.2 386.7 447.8 385.1 448.2 385.0C448.6 384.9 449.4 385.9 449.8 386.7C450.2 387.5 451.0 390.5 451.4 392.0C451.8 393.5 452.9 397.4 453.4 399.0C453.9 400.6 454.4 404.1 455.6 405.2C456.8 406.3 461.8 407.5 463.7 407.9C465.6 408.3 470.6 409.0 471.8 408.6C473.0 408.2 473.2 405.5 473.8 404.5C474.4 403.5 475.9 400.3 476.5 400.2C477.1 400.1 478.2 403.1 478.6 404.0C479.0 404.9 479.4 407.2 480.0 407.5C480.6 407.8 482.3 406.7 483.2 406.4C484.1 406.1 486.6 405.6 487.5 405.3C488.4 405.0 490.0 404.8 490.8 404.3C491.6 403.8 493.2 401.6 494.0 401.0C494.8 400.4 496.4 399.6 497.3 399.4C498.2 399.2 500.6 399.3 501.6 399.4C502.6 399.5 504.1 399.6 505.3 399.9C506.5 400.2 509.9 402.0 511.3 402.1C512.7 402.2 515.6 400.6 517.0 400.5C518.4 400.4 522.0 401.7 523.1 401.6C524.2 401.5 525.4 400.4 526.4 399.9C527.4 399.4 531.0 398.2 531.8 397.8C532.6 397.4 533.0 396.1 533.4 396.2C533.8 396.3 534.6 397.7 535.0 398.3C535.4 398.9 536.5 401.0 537.1 401.0C537.7 401.0 539.6 399.0 540.4 398.3C541.2 397.6 543.0 395.9 543.6 395.1C544.2 394.3 545.3 392.7 545.8 391.9C546.3 391.1 547.4 389.5 547.9 388.6C548.4 387.7 549.7 384.8 549.9 384.3" stroke="#f15c80"/>
<path d="M69.5 401.6C69.7 402.0 70.7 404.7 71.2 405.3C71.7 405.9 73.1 406.9 73.9 407.0C74.7 407.1 77.4 406.7 78.2 406.4C79.0 406.1 80.4 405.5 80.9 404.3C81.4 403.1 82.2 398.5 82.5 396.2C82.8 393.9 83.4 388.2 83.6 385.4C83.8 382.6 84.3 376.9 84.5 373.0C84.7 369.1 85.3 355.8 85.5 352.6C85.7 349.4 85.8 349.6 86.4 346.7C87.0 343.8 89.4 329.8 90.2 328.7C91.0 327.6 92.3 335.6 93.0 337.2C93.7 338.8 95.1 338.6 95.8 341.9C96.5 345.2 97.9 362.0 98.7 364.6C99.5 367.2 101.7 363.9 102.5 363.7C103.3 363.5 104.7 364.4 105.3 362.7C105.9 361.0 107.1 349.6 107.7 349.5C108.3 349.4 109.9 359.8 110.6 361.8C111.3 363.8 113.1 366.3 113.8 366.5C114.5 366.7 115.9 366.1 116.6 363.7C117.3 361.3 118.7 350.1 119.4 346.7C120.1 343.3 121.6 334.6 122.3 335.3C123.0 336.0 124.5 348.0 125.1 352.3C125.7 356.6 127.1 368.2 127.5 371.2C127.9 374.2 128.0 377.5 128.6 377.3C129.2 377.1 131.6 370.9 132.6 369.8C133.6 368.7 136.0 367.4 137.0 368.5C138.0 369.6 139.9 379.3 140.8 379.0C141.7 378.7 144.0 368.5 144.9 365.8C145.8 363.1 147.6 356.7 148.3 356.7C149.0 356.7 150.1 362.8 150.6 365.8C151.1 368.8 151.7 381.8 152.1 381.8C152.5 381.8 153.4 368.9 153.8 365.8C154.2 362.7 154.7 358.5 155.3 356.3C155.9 354.1 158.3 349.7 159.1 347.5C159.9 345.3 161.3 339.9 161.9 338.2C162.5 336.5 163.2 336.7 163.8 333.4C164.4 330.1 165.9 310.0 166.6 310.8C167.3 311.6 168.6 339.5 169.4 340.0C170.2 340.5 172.4 318.8 173.2 314.6C174.0 310.4 175.4 306.5 176.0 305.1C176.6 303.7 177.8 300.7 178.5 303.2C179.2 305.7 181.0 321.8 181.7 325.9C182.4 330.0 183.8 336.1 184.5 337.2C185.2 338.3 186.7 340.7 187.4 335.3C188.1 329.9 189.5 294.6 190.2 291.9C190.9 289.2 192.4 311.2 193.0 312.7C193.6 314.2 194.8 305.4 195.3 304.5C195.8 303.6 196.8 303.4 197.3 304.9C197.8 306.4 199.1 315.2 199.7 317.2C200.3 319.2 201.9 321.8 202.5 321.9C203.1 322.0 204.2 317.1 204.8 318.1C205.4 319.1 206.7 330.2 207.3 330.4C207.9 330.6 209.4 319.8 210.1 320.0C210.8 320.2 212.6 332.0 213.3 332.3C214.0 332.6 215.5 325.1 216.1 322.8C216.7 320.5 218.0 314.8 218.6 313.4C219.2 312.0 220.5 311.7 221.4 311.5C222.3 311.3 225.2 311.2 226.1 311.5C227.0 311.8 228.3 313.3 229.0 314.3C229.7 315.3 231.1 320.8 231.8 320.0C232.5 319.2 233.9 310.3 234.6 307.7C235.3 305.1 236.8 299.0 237.5 298.3C238.2 297.6 239.6 300.4 240.3 302.1C241.0 303.8 243.0 312.2 243.7 312.5C244.4 312.8 245.7 305.1 246.3 304.9C246.9 304.7 248.2 309.1 248.8 310.6C249.4 312.1 250.9 317.3 251.6 317.2C252.3 317.1 254.2 309.5 255.0 309.6C255.8 309.7 257.5 316.2 258.2 318.1C258.9 320.0 260.3 324.1 261.0 325.7C261.7 327.3 263.2 331.4 263.9 331.3C264.6 331.2 266.0 326.7 266.7 324.7C267.4 322.7 269.4 314.5 270.1 314.3C270.8 314.1 272.0 321.9 272.7 322.8C273.4 323.7 275.3 322.2 276.1 321.9C276.9 321.6 278.8 319.9 279.5 320.0C280.2 320.1 281.5 323.7 282.2 322.8C282.9 321.9 284.5 314.5 285.2 312.5C285.9 310.5 287.1 305.9 287.8 305.9C288.5 305.9 290.0 310.6 290.8 312.5C291.6 314.4 293.4 320.2 294.1 321.9C294.8 323.6 296.2 327.1 296.9 326.6C297.6 326.1 299.0 320.0 299.7 318.1C300.4 316.2 301.7 312.0 302.5 310.6C303.3 309.2 305.3 307.5 306.3 306.8C307.3 306.1 310.1 305.1 311.0 304.9C311.9 304.7 313.4 304.5 314.2 305.5C315.0 306.5 316.7 312.2 317.6 313.4C318.5 314.6 320.7 314.8 321.4 315.3C322.1 315.8 322.7 316.3 323.3 317.2C323.9 318.1 325.4 322.5 326.1 322.8C326.8 323.1 328.3 320.6 329.0 320.0C329.7 319.4 331.1 318.2 331.8 318.1C332.5 318.0 333.9 319.0 334.5 319.5C335.1 320.0 336.5 322.4 337.2 321.9C337.9 321.4 339.6 316.7 340.4 315.3C341.2 313.9 342.9 311.4 343.6 310.6C344.3 309.8 345.9 308.5 346.6 308.7C347.3 308.9 349.1 311.7 349.8 312.5C350.5 313.3 351.9 315.4 352.6 315.3C353.3 315.2 355.2 312.7 356.0 311.5C356.8 310.3 358.5 305.8 359.2 304.9C359.9 304.0 361.4 303.8 362.1 304.0C362.8 304.2 364.3 306.0 364.9 306.8C365.5 307.6 366.7 310.6 367.4 310.6C368.1 310.6 369.8 307.3 370.6 306.8C371.4 306.3 373.4 306.5 374.3 306.8C375.2 307.1 377.2 308.6 378.1 309.7C379.0 310.8 381.0 314.7 381.9 316.3C382.8 317.9 385.0 321.9 385.7 322.9C386.4 323.9 387.5 325.4 388.1 324.8C388.7 324.2 389.8 318.0 390.4 318.1C391.0 318.2 392.5 324.6 393.2 325.7C393.9 326.8 395.4 327.2 396.0 327.6C396.6 328.0 397.4 328.4 398.0 329.2C398.6 330.0 400.1 333.2 400.7 334.0C401.3 334.8 402.3 336.3 402.9 336.2C403.5 336.1 404.9 333.4 405.5 333.5C406.1 333.6 407.2 336.3 407.7 337.3C408.2 338.3 408.8 340.4 409.3 341.6C409.8 342.8 411.2 346.2 412.0 347.0C412.8 347.8 415.3 348.1 416.3 348.2C417.3 348.3 419.8 347.4 420.6 347.5C421.4 347.6 422.7 348.5 423.3 349.1C423.9 349.7 425.4 352.2 426.0 352.3C426.6 352.4 428.1 350.4 428.7 349.6C429.3 348.8 430.8 346.3 431.4 345.9C432.0 345.5 433.1 345.8 433.6 346.4C434.1 347.0 435.1 350.2 435.7 351.3C436.3 352.4 438.1 354.8 439.0 355.6C439.9 356.4 442.3 357.8 443.3 358.3C444.3 358.8 446.3 359.0 447.1 359.4C447.9 359.8 449.1 362.1 449.8 362.0C450.5 361.9 452.3 358.4 453.0 358.3C453.7 358.2 455.1 360.7 455.7 361.5C456.3 362.3 457.8 365.4 458.4 365.3C459.0 365.2 460.3 361.8 461.1 361.0C461.9 360.2 463.8 359.1 464.8 358.8C465.8 358.5 468.2 358.2 469.2 358.3C470.2 358.4 472.5 359.1 473.5 359.4C474.5 359.7 476.9 360.1 477.7 360.5C478.5 360.9 479.5 361.7 480.0 362.6C480.5 363.5 481.7 367.9 482.2 368.0C482.7 368.1 483.7 364.4 484.3 363.2C484.9 362.0 486.7 358.9 487.5 357.8C488.3 356.7 490.2 355.4 490.8 354.0C491.4 352.6 492.4 348.0 492.9 346.5C493.4 345.0 494.6 341.7 495.1 341.6C495.6 341.5 496.7 345.1 497.3 345.9C497.9 346.7 499.7 347.8 500.5 348.6C501.3 349.4 503.1 351.7 503.7 352.9C504.3 354.1 505.3 357.1 505.9 358.3C506.5 359.5 508.5 361.4 509.1 362.6C509.7 363.8 510.7 366.7 511.3 368.0C511.9 369.3 513.9 372.1 514.5 373.4C515.1 374.7 516.2 377.3 516.7 378.8C517.2 380.3 517.9 384.6 518.3 386.0C518.7 387.4 519.5 390.7 519.9 390.8C520.3 390.9 521.1 387.3 521.5 386.5C521.9 385.7 522.6 383.9 523.1 383.8C523.6 383.7 525.2 385.2 525.8 385.9C526.4 386.6 527.3 389.1 528.0 389.7C528.7 390.3 531.0 390.8 532.0 390.5C533.0 390.2 535.3 387.5 536.1 387.5C536.9 387.5 538.2 390.0 538.8 390.2C539.4 390.4 540.9 389.3 541.5 389.2C542.1 389.1 543.7 390.3 544.2 389.7C544.7 389.1 545.4 385.5 545.8 384.3C546.2 383.1 546.9 379.4 547.4 379.7C547.9 380.0 549.6 385.7 549.9 386.5" stroke="#e4d354"/>
<path d="M69.0 419.4C69.5 419.3 71.8 418.8 72.8 418.8C73.8 418.8 76.2 419.5 77.1 419.4C78.0 419.3 79.7 418.7 80.3 418.3C80.9 417.9 82.0 416.5 82.5 416.1C83.0 415.7 83.5 414.7 84.1 414.7C84.7 414.7 86.5 415.9 87.3 416.1C88.1 416.3 89.9 416.2 90.6 416.1C91.3 416.0 92.6 415.3 93.3 415.0C94.0 414.7 95.7 414.3 96.5 414.0C97.3 413.7 98.7 412.6 99.7 412.3C100.7 412.0 103.8 411.6 105.1 411.3C106.4 411.0 109.2 410.5 110.5 410.2C111.8 409.9 114.9 409.1 115.9 409.1C116.9 409.1 118.2 410.1 119.1 410.4C120.0 410.7 122.3 411.3 123.5 411.5C124.7 411.7 127.5 412.3 128.8 412.3C130.1 412.3 132.9 411.8 134.2 411.5C135.5 411.2 138.0 410.0 139.3 409.6C140.6 409.2 143.5 408.4 144.7 408.0C145.9 407.6 148.2 407.0 149.0 406.4C149.8 405.8 151.2 403.3 151.7 403.2C152.2 403.1 153.0 404.5 153.3 405.3C153.6 406.1 154.0 408.9 154.4 409.6C154.8 410.3 155.7 411.0 156.6 411.3C157.5 411.6 160.8 411.7 162.0 411.8C163.2 411.9 165.6 412.4 166.3 412.3C167.0 412.2 167.6 412.6 167.9 411.3C168.2 410.0 168.2 406.2 168.4 401.6C168.6 397.0 169.1 379.2 169.4 373.3C169.7 367.4 170.9 355.6 171.3 352.5C171.7 349.4 172.3 347.6 172.6 347.8C172.9 348.0 173.9 352.7 174.2 354.4C174.5 356.1 175.1 360.3 175.5 362.0C175.9 363.7 177.4 368.6 177.9 368.6C178.4 368.6 179.4 363.1 179.8 362.0C180.2 360.9 180.7 358.7 181.1 359.2C181.5 359.7 182.6 364.4 183.0 365.8C183.4 367.2 184.1 370.6 184.5 370.5C184.9 370.4 186.0 365.6 186.4 364.8C186.8 364.0 187.4 362.7 187.7 363.9C188.0 365.1 188.9 372.4 189.2 375.2C189.5 378.0 189.8 385.6 190.1 387.5C190.4 389.4 191.3 390.1 192.1 390.8C192.9 391.5 195.6 393.5 196.5 393.5C197.4 393.5 198.6 391.2 199.3 390.9C200.0 390.6 201.8 391.0 202.5 391.4C203.2 391.8 204.6 393.8 205.2 393.9C205.8 394.0 207.3 392.7 207.9 392.0C208.5 391.3 209.5 389.2 210.1 388.2C210.7 387.2 212.2 384.5 212.8 383.9C213.4 383.3 214.3 383.2 214.9 383.3C215.5 383.4 216.9 384.8 217.6 384.9C218.3 385.0 219.9 384.0 220.9 383.9C221.9 383.8 225.3 384.7 226.3 384.4C227.3 384.1 228.8 382.0 229.5 381.2C230.2 380.4 231.7 377.4 232.2 377.4C232.7 377.4 233.3 379.9 233.6 381.2C233.9 382.5 234.4 386.9 234.7 388.2C235.0 389.5 236.1 391.5 236.5 392.0C236.9 392.5 237.8 392.6 238.1 392.0C238.4 391.4 238.9 387.9 239.2 386.6C239.5 385.3 240.3 381.6 240.8 381.2C241.3 380.8 242.4 382.9 243.0 383.3C243.6 383.7 245.1 383.9 245.7 384.4C246.3 384.9 247.4 386.7 247.8 387.6C248.2 388.5 249.0 391.4 249.4 392.0C249.8 392.6 250.7 392.8 251.1 392.5C251.5 392.2 252.3 389.8 252.7 389.3C253.1 388.8 254.2 388.5 254.8 388.2C255.4 387.9 257.3 387.2 258.1 387.1C258.9 387.0 260.6 387.2 261.3 387.1C262.0 387.0 263.3 386.5 264.0 386.0C264.7 385.5 266.4 383.9 267.2 383.3C268.0 382.7 269.6 381.5 270.5 381.2C271.4 380.9 273.9 380.9 274.8 381.2C275.7 381.5 277.1 383.4 277.9 383.4C278.7 383.4 280.4 382.1 281.2 381.3C282.0 380.5 284.1 377.1 284.9 377.0C285.7 376.9 287.5 380.2 288.2 380.7C288.9 381.2 290.2 381.9 290.9 381.3C291.6 380.7 293.3 377.1 294.1 375.9C294.9 374.7 296.4 372.4 297.3 371.6C298.2 370.8 300.7 369.4 301.7 368.9C302.7 368.4 304.7 367.6 306.0 367.3C307.3 367.0 310.9 366.5 312.4 366.2C313.9 365.9 317.5 365.2 318.9 365.1C320.3 365.0 323.3 365.0 324.3 365.6C325.3 366.2 326.5 370.6 327.0 370.5C327.5 370.4 328.1 365.5 328.6 365.1C329.1 364.7 330.3 366.3 330.8 367.3C331.3 368.3 332.3 373.3 332.9 373.7C333.5 374.1 335.4 371.7 336.2 370.5C337.0 369.3 338.6 365.7 339.4 364.0C340.2 362.3 342.0 357.8 342.6 356.5C343.2 355.2 344.0 352.8 344.5 353.0C345.0 353.2 346.3 356.8 346.9 358.3C347.5 359.8 349.0 364.5 349.6 365.9C350.2 367.3 351.6 369.0 352.3 369.6C353.0 370.2 354.7 370.5 355.5 371.3C356.3 372.1 358.0 375.5 358.7 376.1C359.4 376.7 360.6 377.4 361.2 376.7C361.8 376.0 363.1 371.6 363.6 370.2C364.1 368.8 365.2 365.6 365.7 364.8C366.2 364.0 367.2 363.0 367.7 363.2C368.2 363.4 369.0 365.5 369.5 366.4C370.0 367.3 371.0 369.9 371.7 370.7C372.4 371.5 374.4 372.8 375.4 372.9C376.4 373.0 378.9 372.5 379.8 371.8C380.7 371.1 382.3 368.4 383.0 367.0C383.7 365.6 385.1 361.7 385.7 360.5C386.3 359.3 387.3 357.1 387.8 357.3C388.3 357.5 389.5 361.1 390.0 362.1C390.5 363.1 391.1 365.4 391.6 365.9C392.1 366.4 393.7 366.2 394.3 365.9C394.9 365.6 396.4 364.2 397.0 363.2C397.6 362.2 398.6 359.1 399.2 357.3C399.8 355.5 401.4 349.9 401.9 348.6C402.4 347.3 402.6 345.9 403.0 346.2C403.4 346.5 404.9 351.7 405.5 351.3C406.1 350.9 407.7 344.4 408.2 343.2C408.7 342.0 409.5 341.1 409.9 341.6C410.3 342.1 411.2 345.1 411.5 347.0C411.8 348.9 412.3 355.5 412.6 357.7C412.9 359.9 413.9 363.8 414.4 365.3C414.9 366.8 415.8 368.7 416.5 370.2C417.2 371.7 419.8 376.3 420.6 377.7C421.4 379.1 422.9 380.8 423.5 381.5C424.1 382.2 424.8 383.9 425.3 383.6C425.8 383.3 427.1 379.9 427.7 379.1C428.3 378.3 429.8 377.1 430.4 377.0C431.0 376.9 432.5 378.0 433.1 378.6C433.7 379.2 435.0 381.0 435.8 381.8C436.6 382.6 439.1 384.4 440.1 385.0C441.1 385.6 443.1 387.0 443.9 387.2C444.7 387.4 446.0 387.3 446.6 386.7C447.2 386.1 448.7 383.2 449.3 382.3C449.9 381.4 451.3 380.0 452.0 379.6C452.7 379.2 454.4 378.9 455.2 378.6C456.0 378.3 457.6 377.5 458.4 377.5C459.2 377.5 460.9 378.4 461.7 378.6C462.5 378.8 464.6 379.0 465.4 378.9C466.2 378.8 467.5 377.8 468.1 377.5C468.7 377.2 469.7 376.2 470.3 376.4C470.9 376.6 472.4 379.0 473.0 379.1C473.6 379.2 474.6 377.8 475.1 377.0C475.6 376.2 476.4 373.6 476.8 372.6C477.2 371.6 478.0 369.0 478.4 368.3C478.8 367.6 479.6 366.5 480.0 366.7C480.4 366.9 481.2 369.3 481.6 369.9C482.0 370.5 482.6 371.8 483.2 372.1C483.8 372.4 485.7 372.3 486.5 372.6C487.3 372.9 488.9 373.8 489.7 374.3C490.5 374.8 492.7 376.2 493.5 377.0C494.3 377.8 495.6 380.3 496.2 381.3C496.8 382.3 498.3 384.8 498.9 385.6C499.5 386.4 500.7 387.4 501.6 387.7C502.5 388.0 505.6 387.7 506.4 388.3C507.2 388.9 507.7 391.5 508.0 392.4C508.3 393.3 508.6 395.7 509.1 396.2C509.6 396.7 511.5 396.4 512.3 396.7C513.1 397.0 514.8 398.6 515.6 398.9C516.4 399.2 518.1 399.3 518.8 399.4C519.5 399.5 520.9 400.5 521.3 399.9C521.7 399.3 521.8 395.3 522.0 394.0C522.2 392.7 522.7 389.9 523.1 389.2C523.5 388.5 524.7 387.8 525.3 388.1C525.9 388.4 527.4 390.8 528.0 391.3C528.6 391.8 529.5 392.7 530.1 392.4C530.7 392.1 532.2 388.8 532.8 388.6C533.4 388.4 534.5 390.2 535.0 390.8C535.5 391.4 536.6 393.4 537.1 394.0C537.6 394.6 538.7 396.2 539.3 396.2C539.9 396.2 541.4 394.1 542.0 394.0C542.6 393.9 544.1 395.2 544.7 395.1C545.3 395.0 546.8 394.1 547.4 393.5C548.0 392.9 549.6 390.6 549.9 390.2" stroke="#8085e8"/>
<path d="M394.2 420.2C394.9 420.3 398.6 420.9 399.8 420.8C401.0 420.7 403.5 419.6 404.5 419.2C405.5 418.8 407.6 417.7 408.3 417.4C409.0 417.1 409.6 416.8 410.2 417.0C410.8 417.2 412.2 419.2 413.0 419.4C413.8 419.6 415.7 419.1 416.8 419.0C417.9 418.9 421.4 418.5 422.5 418.5C423.6 418.5 425.4 418.8 426.2 419.0C427.0 419.2 428.7 420.6 429.5 420.5C430.3 420.4 432.1 418.8 432.8 418.5C433.5 418.2 434.6 418.0 435.2 418.2C435.8 418.4 437.5 420.2 438.2 420.0C438.9 419.8 440.5 417.1 441.3 416.4C442.1 415.7 444.3 414.8 445.1 414.5C445.9 414.2 447.1 414.2 447.9 413.6C448.7 413.0 450.9 410.4 451.7 409.8C452.5 409.2 453.8 408.0 454.5 408.3C455.2 408.6 456.7 412.0 457.4 412.6C458.1 413.2 459.4 413.3 460.2 413.6C461.0 413.9 463.2 415.2 464.0 415.5C464.8 415.8 466.1 416.5 466.8 416.4C467.5 416.3 468.7 415.0 469.6 414.5C470.5 414.0 472.8 412.2 474.0 412.0C475.2 411.8 479.0 412.7 480.0 412.9C481.0 413.1 481.9 414.2 482.7 414.0C483.5 413.8 485.5 411.6 486.5 411.3C487.5 411.0 489.9 411.6 490.8 411.3C491.7 411.0 493.2 409.6 494.0 409.1C494.8 408.6 496.7 408.2 497.3 407.5C497.9 406.8 498.8 404.0 499.4 403.2C500.0 402.4 501.4 401.3 502.1 401.0C502.8 400.7 504.5 400.6 505.3 401.0C506.1 401.4 507.9 403.7 508.6 404.3C509.3 404.9 510.7 405.9 511.3 405.9C511.9 405.9 513.4 404.8 514.0 404.3C514.6 403.8 516.1 402.3 516.7 402.1C517.3 401.9 518.8 402.1 519.4 402.6C520.0 403.1 521.0 405.6 521.5 406.4C522.0 407.2 523.2 409.2 523.7 409.1C524.2 409.0 524.9 406.3 525.3 405.3C525.7 404.3 526.5 401.1 526.9 401.0C527.3 400.9 528.0 403.5 528.5 404.3C529.0 405.1 530.2 407.5 530.7 408.0C531.2 408.5 532.2 408.9 532.8 408.6C533.4 408.3 534.9 406.0 535.5 405.3C536.1 404.6 537.6 403.2 538.2 402.6C538.8 402.0 540.3 400.5 540.9 399.9C541.5 399.3 543.0 397.7 543.6 397.8C544.2 397.9 545.3 399.9 545.8 400.5C546.3 401.1 547.0 403.1 547.4 403.2C547.8 403.3 548.7 402.0 549.0 401.6C549.3 401.2 549.8 400.1 549.9 399.9" stroke="#8d4653"/>
<path d="M532.3 401.0C532.4 401.5 533.1 403.9 533.4 404.8C533.7 405.7 534.6 408.2 535.0 408.6C535.4 409.0 536.1 408.4 536.6 408.0C537.1 407.6 538.2 405.8 538.8 405.3C539.4 404.8 540.9 404.0 541.5 403.7C542.1 403.4 543.2 402.7 543.6 403.2C544.0 403.7 544.8 406.5 545.2 407.5C545.6 408.5 546.4 411.0 546.8 411.3C547.2 411.6 548.1 410.6 548.5 409.6C548.9 408.6 549.7 404.0 549.9 403.2" stroke="#91e8e1"/>
</g>
<path d="M583 168.0H599" stroke="#7cb5ec" stroke-width="4" fill="none"/>
<text x="604.5" y="172.5" font-size="12" font-weight="bold" fill="#333333" textLength="8.5" lengthAdjust="spacingAndGlyphs">C</text>
<path d="M583 184.0H599" stroke="#434348" stroke-width="4" fill="none"/>
<text x="604.5" y="188.5" font-size="12" font-weight="bold" fill="#333333" textLength="28.0" lengthAdjust="spacingAndGlyphs">Java</text>
<path d="M583 200.0H599" stroke="#90ed7d" stroke-width="4" fill="none"/>
<text x="604.5" y="204.5" font-size="12" font-weight="bold" fill="#333333" textLength="30.7" lengthAdjust="spacingAndGlyphs">C++</text>
<path d="M583 216.0H599" stroke="#f7a35c" stroke-width="4" fill="none"/>
<text x="604.5" y="220.5" font-size="12" font-weight="bold" fill="#333333" textLength="80.0" lengthAdjust="spacingAndGlyphs">Objective-C</text>
<path d="M583 232.0H599" stroke="#8085e9" stroke-width="4" fill="none"/>
<text x="604.5" y="236.5" font-size="12" font-weight="bold" fill="#333333" textLength="17.7" lengthAdjust="spacingAndGlyphs">C#</text>
<path d="M583 248.0H599" stroke="#f15c80" stroke-width="4" fill="none"/>
<text x="604.5" y="252.5" font-size="12" font-weight="bold" fill="#333333" textLength="65.6" lengthAdjust="spacingAndGlyphs">JavaScript</text>
<path d="M583 264.0H599" stroke="#e4d354" stroke-width="4" fill="none"/>
<text x="604.5" y="268.5" font-size="12" font-weight="bold" fill="#333333" textLength="26.3" lengthAdjust="spacingAndGlyphs">PHP</text>
<path d="M583 280.0H599" stroke="#8085e8" stroke-width="4" fill="none"/>
<text x="604.5" y="284.5" font-size="12" font-weight="bold" fill="#333333" textLength="44.0" lengthAdjust="spacingAndGlyphs">Python</text>
<path d="M583 296.0H599" stroke="#8d4653" stroke-width="4" fill="none"/>
<text x="604.5" y="300.5" font-size="12" font-weight="bold" fill="#333333" textLength="115.0" lengthAdjust="spacingAndGlyphs">Visual Basic .NET</text>
<path d="M583 312.0H599" stroke="#91e8e1" stroke-width="4" fill="none"/>
<text x="604.5" y="316.5" font-size="12" font-weight="bold" fill="#333333" textLength="78.0" lengthAdjust="spacingAndGlyphs">Visual Basic</text>
</svg></body></html>
